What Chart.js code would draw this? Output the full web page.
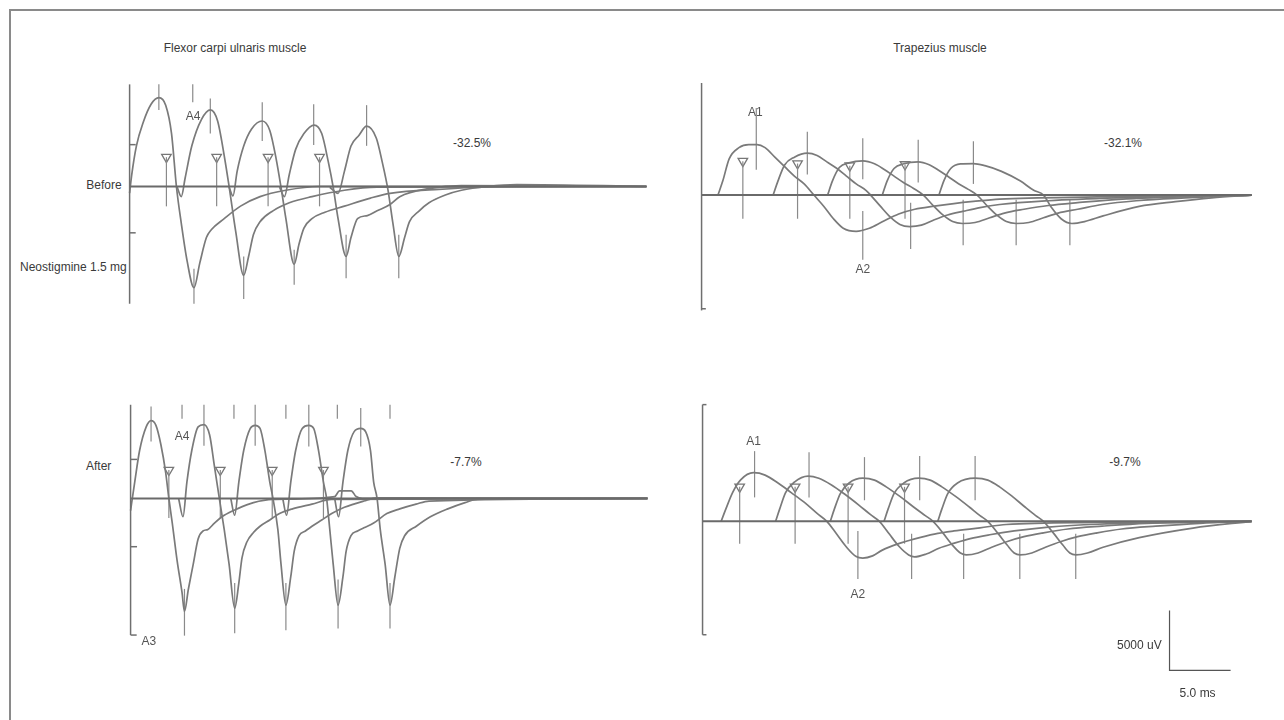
<!DOCTYPE html>
<html>
<head>
<meta charset="utf-8">
<title>RNS before / after neostigmine</title>
<script src="https://cdn.jsdelivr.net/npm/chart.js@4.4.0/dist/chart.umd.min.js"></script>
<style>
  body { margin: 0; width: 1284px; height: 720px; background: #fff; position: relative; overflow: hidden;
         font-family: "Liberation Sans", sans-serif; color: #3a3a3a; }
  #frame { position: absolute; left: 9px; top: 9px; width: 1290px; height: 720px;
           border-top: 2px solid #8a8a8a; border-left: 2px solid #8a8a8a; }
  .lbl { position: absolute; font-size: 12px; white-space: nowrap; line-height: 1; }
  .c { transform: translate(-50%, -50%); }
  .l { transform: translate(0, -50%); }
  canvas { position: absolute; }
</style>
</head>
<body>
<div id="frame"></div>

<div class="lbl c" style="left:235px;top:48px">Flexor carpi ulnaris muscle</div>
<div class="lbl c" style="left:940px;top:48px">Trapezius muscle</div>
<div class="lbl c" style="left:104px;top:185px">Before</div>
<div class="lbl l" style="left:20px;top:267px">Neostigmine 1.5 mg</div>
<div class="lbl l" style="left:86px;top:466px">After</div>
<div class="lbl c" style="left:472px;top:143px">-32.5%</div>
<div class="lbl c" style="left:1123px;top:143px">-32.1%</div>
<div class="lbl c" style="left:466px;top:462px">-7.7%</div>
<div class="lbl c" style="left:1125px;top:462px">-9.7%</div>

<canvas id="fcuBefore"></canvas>
<canvas id="fcuAfter"></canvas>
<canvas id="trapBefore"></canvas>
<canvas id="trapAfter"></canvas>

<script>
// values are [ms, mV]; 5 ms and 5000 uV both measure 62.5 px on the scale bar
const fcuBeforeTraces = [
  [[0,-0.56],[0.16,0.88],[0.56,3.44],[1.12,5.44],[1.76,6.96],[2.4,7.52],[2.96,6.88],[3.44,4.48],[3.84,0],[4.24,-3.12],[4.72,-6.32],[5.28,-8.56],[5.76,-6.46],[6.3,-4.32],[6.7,-3.66],[7.76,-2.72],[9.1,-1.66],[10.7,-0.86],[12.82,-0.32],[15.5,0],[42.4,0]],
  [[3.9,-0.06],[4.24,-0.86],[4.56,0.74],[5.1,3.42],[5.9,5.68],[6.64,6.48],[7.22,5.54],[7.76,2.62],[8.16,0.02],[8.7,-3.78],[9.36,-7.52],[9.76,-5.92],[10.16,-4.06],[10.7,-2.98],[11.76,-2.06],[13.1,-1.38],[14.96,-0.86],[17.62,-0.32],[20.3,-0.06],[42.4,0]],
  [[8.16,-0.06],[8.48,-0.8],[8.82,1.28],[9.36,3.42],[10.02,4.88],[10.88,5.54],[11.5,4.74],[12.02,2.34],[12.42,-0.06],[12.82,-2.72],[13.5,-6.58],[13.9,-4.86],[14.3,-3.52],[14.96,-2.72],[16.02,-2.18],[17.62,-1.66],[19.76,-0.98],[21.36,-0.58],[25.36,-0.24],[31.76,0],[42.4,0]],
  [[12.3,-0.06],[12.7,-0.86],[13.1,1.02],[13.62,3.14],[14.3,4.48],[15.14,5.2],[15.76,4.48],[16.3,2.08],[16.7,-0.06],[17.1,-2.72],[17.76,-5.92],[18.16,-4.32],[18.7,-2.72],[19.5,-2.46],[20.3,-2.06],[21.36,-1.52],[22.16,-0.86],[24.56,-0.18],[27.2,0.08],[42.4,0]],
  [[16.42,-0.06],[17.1,-0.58],[17.62,1.28],[18.16,3.42],[18.82,4.34],[19.44,5.1],[20.24,4.08],[20.72,2.08],[21.2,-0.32],[21.6,-3.12],[22.08,-5.92],[22.56,-4.32],[22.96,-2.98],[23.76,-2.06],[24.56,-1.38],[25.9,-0.72],[27.22,-0.32],[29.36,0],[31.76,0.16],[42.4,0]]
];
const fcuAfterTraces = [
  [[0,-1.02],[0.34,1.38],[0.74,4.05],[1.28,6.05],[1.68,6.58],[2.08,6.18],[2.48,4.58],[2.88,2.18],[3.14,0],[3.42,-2.08],[3.82,-5.28],[4.22,-7.95],[4.42,-9.55],[4.74,-7.68],[5.14,-5.55],[5.54,-3.42],[5.94,-2.75],[6.34,-2.62],[6.88,-2.08],[7.68,-1.42],[8.74,-0.88],[10.08,-0.35],[11.68,-0.08],[16.74,0.16],[17.14,0.64],[18.1,0.64],[18.5,0.16],[19,0],[42.4,0]],
  [[3.94,0],[4.3,-1.55],[4.62,1.38],[5.02,4.05],[5.54,6.05],[6.02,6.24],[6.48,5.38],[6.88,2.72],[7.28,0],[7.68,-2.62],[8.08,-5.55],[8.54,-9.28],[8.88,-7.15],[9.14,-5.02],[9.54,-3.68],[10.08,-2.88],[10.62,-2.35],[11.42,-1.82],[12.22,-1.28],[13.28,-0.88],[14.88,-0.48],[16.48,-0.08],[42.4,0]],
  [[8.22,0],[8.54,-1.42],[8.88,1.38],[9.28,4.05],[9.82,5.92],[10.22,6.18],[10.62,5.92],[11.02,4.05],[11.42,1.38],[11.68,0],[12.08,-2.62],[12.34,-5.55],[12.74,-9.02],[13.14,-6.62],[13.42,-4.48],[13.82,-3.15],[14.34,-2.75],[14.88,-2.35],[15.68,-1.82],[16.5,-1.28],[17.54,-0.75],[19.14,-0.22],[20.22,0.05],[42.4,0]],
  [[12.48,0],[12.8,-1.42],[13.14,1.38],[13.54,4.05],[14.08,5.92],[14.62,6.18],[15.02,5.92],[15.42,4.05],[15.82,1.38],[16.08,0],[16.34,-2.62],[16.62,-5.55],[17.02,-9.02],[17.42,-6.62],[17.68,-4.48],[18.08,-3.15],[18.62,-2.75],[19.14,-2.48],[19.94,-2.08],[21.02,-1.28],[22.08,-0.88],[23.42,-0.48],[24.48,-0.22],[42.4,0]],
  [[16.74,0],[17.06,-1.55],[17.42,1.38],[17.82,4.05],[18.34,5.65],[18.88,5.92],[19.28,5.65],[19.68,4.05],[19.94,1.38],[20.22,0],[20.48,-2.62],[20.88,-5.55],[21.28,-9.02],[21.68,-6.62],[22.08,-4.22],[22.48,-3.15],[23.44,-2.35],[24.59,-1.55],[26.02,-0.88],[27.44,-0.35],[28.48,-0.06],[42.4,0]]
];
const trapBeforeTraces = [
  [[1.34,0],[1.74,1.2],[2.26,3.06],[3.06,4.0],[3.86,4.26],[4.54,4.26],[5.2,4.0],[6.0,3.2],[6.8,2.4],[7.6,1.6],[8.4,0.94],[9.2,0],[10.0,-0.94],[10.8,-2.0],[11.6,-2.8],[12.66,-3.06],[13.74,-2.8],[14.8,-2.26],[16.14,-1.6],[17.46,-1.2],[19.06,-0.94],[20.66,-0.72],[22.26,-0.54],[24.4,-0.34],[32.4,-0.16],[45.04,0]],
  [[5.86,0],[6.26,1.2],[6.8,2.54],[7.6,3.2],[8.66,3.54],[9.46,3.34],[10.26,2.8],[11.06,2.26],[11.86,1.6],[12.66,0.94],[13.46,0.4],[13.84,0],[14.64,-0.94],[15.44,-1.84],[16.24,-2.48],[17.04,-2.66],[18.0,-2.54],[19.06,-2.08],[20.14,-1.68],[21.46,-1.36],[22.8,-1.06],[24.4,-0.8],[28.4,-0.48],[34.0,-0.24],[45.04,0]],
  [[10.32,0],[10.72,1.2],[11.28,2.32],[12.08,2.72],[13.2,2.88],[14.16,2.64],[14.96,2.16],[15.76,1.6],[16.56,1.04],[17.36,0.56],[18.16,0],[18.96,-0.88],[19.76,-1.68],[20.56,-2.24],[21.36,-2.4],[22.4,-2.32],[23.6,-1.92],[24.8,-1.52],[26.4,-1.2],[28.4,-0.88],[30.8,-0.64],[34.8,-0.32],[45.04,0]],
  [[14.8,0],[15.2,1.2],[15.76,2.24],[16.56,2.64],[17.74,2.8],[18.64,2.56],[19.44,2.08],[20.24,1.52],[21.04,0.96],[21.84,0.48],[22.56,0],[23.36,-0.88],[24.16,-1.68],[24.96,-2.24],[25.76,-2.4],[26.8,-2.32],[28.0,-1.92],[29.2,-1.52],[30.8,-1.2],[32.8,-0.8],[35.6,-0.48],[39.6,-0.24],[45.04,0]],
  [[19.44,0],[19.84,1.2],[20.4,2.24],[21.2,2.64],[22.26,2.66],[23.2,2.48],[24.56,2.0],[26.08,1.2],[27.2,0.4],[28.0,0],[28.64,-1.04],[29.44,-2.0],[30.32,-2.4],[31.36,-2.24],[32.88,-1.76],[35.84,-0.96],[38.8,-0.56],[41.76,-0.24],[45.04,0]]
];
const trapAfterTraces = [
  [[1.52,0],[1.92,1.06],[2.46,2.4],[3.12,3.46],[4.18,4.06],[5.12,3.86],[6.18,3.2],[7.26,2.4],[8.32,1.6],[9.38,0.66],[10.18,0],[10.98,-1.06],[11.78,-2.14],[12.58,-2.94],[13.12,-3.06],[13.92,-2.88],[14.72,-2.4],[16.06,-1.86],[17.38,-1.46],[18.98,-1.06],[20.58,-0.8],[22.72,-0.54],[24.86,-0.26],[32.32,-0.08],[44.96,0]],
  [[5.98,0],[6.32,1.04],[6.8,2.4],[7.52,3.28],[8.64,3.78],[9.52,3.6],[10.56,3.04],[11.68,2.24],[12.8,1.36],[13.76,0.56],[14.48,0],[15.28,-1.04],[16.08,-2.08],[16.88,-2.8],[17.36,-2.96],[18.32,-2.72],[19.36,-2.24],[20.56,-1.84],[21.92,-1.44],[23.52,-1.12],[25.52,-0.8],[28.32,-0.48],[32.32,-0.24],[44.96,0]],
  [[10.46,0],[10.8,1.04],[11.28,2.32],[12.0,3.2],[13.12,3.6],[14.08,3.44],[15.04,2.88],[16.16,2.08],[17.28,1.2],[18.24,0.48],[18.88,0],[19.68,-0.96],[20.48,-2.0],[21.12,-2.64],[21.6,-2.8],[22.56,-2.64],[23.68,-2.16],[24.96,-1.68],[26.32,-1.28],[27.92,-0.96],[29.92,-0.64],[32.72,-0.4],[36.32,-0.16],[44.96,0]],
  [[14.86,0],[15.2,1.04],[15.68,2.32],[16.48,3.2],[17.7,3.6],[18.64,3.44],[19.6,2.88],[20.72,2.08],[21.84,1.2],[22.72,0.48],[23.36,0],[24.16,-0.96],[24.96,-2.0],[25.52,-2.64],[26.0,-2.8],[26.96,-2.64],[28.08,-2.16],[29.36,-1.68],[30.72,-1.28],[32.32,-0.96],[34.32,-0.64],[37.12,-0.4],[40.72,-0.16],[44.96,0]],
  [[19.26,0],[19.6,1.04],[20.08,2.32],[20.88,3.2],[22.32,3.6],[23.36,3.44],[24.32,2.88],[25.36,2.08],[26.4,1.2],[27.28,0.48],[27.92,0],[28.72,-0.96],[29.52,-2.0],[30.08,-2.64],[30.56,-2.8],[31.52,-2.64],[32.8,-2.16],[35.76,-1.36],[40.16,-0.56],[44.96,0]]
];

// vertical cursor marks: [ms, top mV, bottom mV]
const fcuBeforeMarks = [[2.4,8.64,6.48],[5.18,8.64,7.12],[6.62,7.44,4.48],[10.88,7.12,3.84],[15.1,6.96,3.52],[19.44,6.88,3.44],
  [3.02,2.48,-1.68],[7.14,2.48,-1.68],[11.36,2.48,-1.68],[15.58,2.48,-1.68],
  [5.28,-6.96,-9.92],[9.36,-5.92,-9.52],[13.5,-5.36,-8.32],[17.76,-4.08,-7.76],[22.08,-4.08,-7.76]];
const fcuAfterMarks = [[1.68,7.78,4.82],[6.02,7.92,4.45],[10.22,7.92,4.45],[14.62,7.92,4.4],[18.88,7.65,4.4],
  [4.22,7.92,6.74],[8.48,7.92,6.74],[12.74,7.92,6.74],[16.96,7.92,6.74],[21.28,7.92,6.74],
  [3.14,2.4,-1.66],[7.36,2.4,-1.66],[11.62,2.4,-1.66],[15.82,2.4,-1.66],
  [4.42,-7.65,-11.6],[8.54,-7.15,-11.4],[12.74,-7.15,-11.15],[17.02,-6.86,-11.0],[21.28,-7.15,-11.0]];
const trapBeforeMarks = [[4.48,7.34,2.14],[8.66,5.34,1.74],[13.2,4.8,1.34],[17.74,4.66,1.06],[22.26,4.54,0.94],
  [3.38,2.86,-2.0],[7.86,2.66,-2.0],[12.14,2.48,-2.0],[16.66,2.58,-2.0],
  [13.2,-1.34,-5.46],[17.12,-0.64,-4.56],[21.42,-0.4,-4.24],[25.76,-0.4,-4.24],[30.16,-0.4,-4.24]];
const trapAfterMarks = [[4.26,5.86,2.0],[8.72,5.76,2.0],[13.26,5.36,1.76],[17.78,5.46,1.76],[22.32,5.46,1.76],
  [3.04,2.88,-1.86],[7.58,2.88,-1.86],[11.92,2.88,-1.86],[16.54,2.88,-1.86],
  [12.72,-0.8,-4.8],[17.12,-1.04,-4.8],[21.38,-1.04,-4.8],[25.98,-1.04,-4.8],[30.56,-1.04,-4.8]];

// triangle cursors [ms, mV]
const fcuBeforeTriangles = [[3.02,2.48],[7.14,2.48],[11.36,2.48],[15.58,2.48]];
const fcuAfterTriangles = [[3.14,2.4],[7.36,2.4],[11.62,2.4],[15.82,2.4]];
const trapBeforeTriangles = [[3.38,2.86],[7.86,2.66],[12.14,2.48],[16.66,2.58]];
const trapAfterTriangles = [[3.04,2.88],[7.58,2.88],[11.92,2.88],[16.54,2.88]];

// amplitude axis: [top mV, bottom mV], small ticks: [mV, length ms]
const fcuBeforeAxis = [8.64, -9.92];
const fcuAfterAxis = [7.92, -11.55];
const trapBeforeAxis = [9.46, -9.74];
const trapAfterAxis = [9.74, -9.46];
const fcuBeforeTicks = [[3.54, 0.5], [-3.92, 0.5]];
const fcuAfterTicks = [[3.3, 0.53], [-4.08, 0.53], [-11.55, 0.5]];
const trapBeforeTicks = [[-9.6, 0.35]];
const trapAfterTicks = [[9.74, 0.32], [-9.46, 0.32]];

// cursor names [text, ms, mV, baseline]
const fcuBeforeNames = [['A4', 5.2, 5.92, 'middle']];
const fcuAfterNames = [['A4', 4.22, 5.25, 'middle'], ['A3', 1.5, -11.6, 'top']];
const trapBeforeNames = [['A1', 4.4, 6.94, 'middle'], ['A2', 13.2, -6.26, 'middle']];
const trapAfterNames = [['A1', 4.18, 6.66, 'middle'], ['A2', 12.72, -6.14, 'middle']];

// calibration bar (5 ms x 5000 uV)
const scaleBar = [[38.24, -7.44], [38.24, -12.44], [43.24, -12.44]];

const PX = 12.5; // px per ms and per mV

const panels = [
  { id: 'fcuBefore', left: 115, top: 70, width: 550, height: 250, ox: 123, oy: 186, end: 42.4,
    traces: fcuBeforeTraces, marks: fcuBeforeMarks, tris: fcuBeforeTriangles, axis: fcuBeforeAxis, ticks: fcuBeforeTicks, names: fcuBeforeNames },
  { id: 'fcuAfter', left: 115, top: 392, width: 550, height: 253, ox: 124, oy: 497.3, end: 42.4,
    traces: fcuAfterTraces, marks: fcuAfterMarks, tris: fcuAfterTriangles, axis: fcuAfterAxis, ticks: fcuAfterTicks, names: fcuAfterNames },
  { id: 'trapBefore', left: 685, top: 66, width: 590, height: 260, ox: 695, oy: 195, end: 45.04,
    traces: trapBeforeTraces, marks: trapBeforeMarks, tris: trapBeforeTriangles, axis: trapBeforeAxis, ticks: trapBeforeTicks, names: trapBeforeNames },
  { id: 'trapAfter', left: 685, top: 388, width: 590, height: 330, ox: 696, oy: 520, end: 44.96,
    traces: trapAfterTraces, marks: trapAfterMarks, tris: trapAfterTriangles, axis: trapAfterAxis, ticks: trapAfterTicks, names: trapAfterNames, bar: true }
];

function line(points, color, width) {
  return {
    data: points.map(p => ({ x: p[0], y: p[1] })),
    showLine: true, borderColor: color, borderWidth: width,
    pointRadius: 0, fill: false, clip: false, cubicInterpolationMode: 'monotone'
  };
}

// draws the cursor names and the calibration text at data positions
const namePlugin = {
  id: 'names',
  afterDatasetsDraw(chart, args, opts) {
    const ctx = chart.ctx, xs = chart.scales.x, ys = chart.scales.y;
    ctx.save();
    (opts.items || []).forEach(it => {
      ctx.font = it.font || '12px "Liberation Sans Narrow", "Liberation Sans", sans-serif';
      ctx.fillStyle = it.color || '#555';
      ctx.textAlign = it.align || 'center';
      ctx.textBaseline = it.baseline || 'middle';
      ctx.fillText(it.text, xs.getPixelForValue(it.x), ys.getPixelForValue(it.y));
    });
    ctx.restore();
  }
};

panels.forEach(p => {
  const cv = document.getElementById(p.id);
  cv.width = p.width; cv.height = p.height;
  cv.style.left = p.left + 'px'; cv.style.top = p.top + 'px';

  const ds = [];
  ds.push(line([[0, p.axis[0]], [0, p.axis[1]]], '#6f6f6f', 1.5));
  p.ticks.forEach(t => ds.push(line([[0, t[0]], [t[1], t[0]]], '#6f6f6f', 1.5)));
  ds.push(line([[0, 0], [p.end, 0]], '#6a6a6a', 2));
  p.traces.forEach(t => ds.push(line(t, '#7a7a7a', 1.7)));
  p.marks.forEach(m => ds.push(line([[m[0], m[1]], [m[0], m[2]]], '#8a8a8a', 1.2)));
  ds.push({
    data: p.tris.map(t => ({ x: t[0], y: t[1] })),
    showLine: false, pointStyle: 'triangle', rotation: 180, pointRadius: 5.5,
    pointBorderColor: '#777', pointBackgroundColor: 'rgba(255,255,255,0.85)', pointBorderWidth: 1.3, clip: false
  });

  const items = p.names.map(n => ({ text: n[0], x: n[1], y: n[2], baseline: n[3] }));
  if (p.bar) {
    ds.push(line(scaleBar, '#555', 1.2));
    items.push({ text: '5000 uV', x: 37.6, y: -10.4, align: 'right', font: '12px "Liberation Sans", sans-serif', color: '#3a3a3a' });
    items.push({ text: '5.0 ms', x: 40.54, y: -14.4, font: '12px "Liberation Sans", sans-serif', color: '#3a3a3a' });
  }

  new Chart(cv, {
    type: 'scatter',
    data: { datasets: ds },
    plugins: [namePlugin],
    options: {
      responsive: false, animation: false, events: [],
      layout: { padding: 0 },
      scales: {
        x: { type: 'linear', display: false, min: (p.left - p.ox) / PX, max: (p.left + p.width - p.ox) / PX },
        y: { type: 'linear', display: false, min: (p.oy - p.top - p.height) / PX, max: (p.oy - p.top) / PX }
      },
      plugins: { legend: { display: false }, tooltip: { enabled: false }, names: { items: items } }
    }
  });
});
</script>
</body>
</html>
